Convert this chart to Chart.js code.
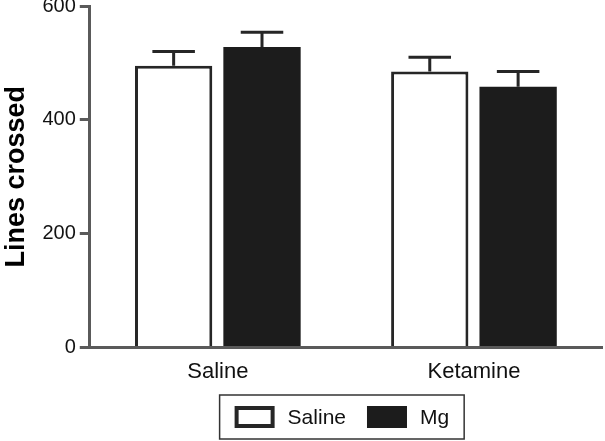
<!DOCTYPE html>
<html>
<head>
<meta charset="utf-8">
<script src="https://cdn.jsdelivr.net/npm/chart.js@4.4.1/dist/chart.umd.min.js"></script>
<style>
  html, body { margin: 0; padding: 0; background: #fff; }
  #wrap { width: 605px; height: 441px; }
</style>
</head>
<body>
<div id="wrap"><canvas id="c" width="605" height="441"></canvas></div>
<script>
const categories = ["Saline", "Ketamine"];
const seriesNames = ["Saline", "Mg"];
const salineValues = [495, 485];
const salineErrors = [25, 25];
const mgValues = [528, 458];
const mgErrors = [26, 27];
const yTicks = [0, 200, 400, 600];
const yTitle = "Lines crossed";

const FONT = "'Liberation Sans', Arial, Helvetica, sans-serif";
const DARK = "#262626";

const errorBarPlugin = {
  id: 'errorBars',
  afterDatasetsDraw(chart) {
    const ctx = chart.ctx;
    const y = chart.scales.y;
    chart.data.datasets.forEach((ds, di) => {
      const meta = chart.getDatasetMeta(di);
      meta.data.forEach((bar, i) => {
        const v = ds.data[i], e = ds.errors[i];
        const yTop = y.getPixelForValue(v + e);
        const yBar = y.getPixelForValue(v);
        const capW = bar.width * 0.55;
        ctx.save();
        ctx.strokeStyle = DARK;
        ctx.lineWidth = 3;
        ctx.lineCap = 'butt';
        ctx.beginPath();
        ctx.moveTo(bar.x, yBar);
        ctx.lineTo(bar.x, yTop);
        ctx.moveTo(bar.x - capW / 2, yTop);
        ctx.lineTo(bar.x + capW / 2, yTop);
        ctx.stroke();
        ctx.restore();
      });
    });
  }
};

const legendPlugin = {
  id: 'boxLegend',
  afterDraw(chart) {
    const ctx = chart.ctx;
    const area = chart.chartArea;
    ctx.save();
    ctx.font = "21px " + FONT;
    const swW = 40, swH = 22, gapSwText = 13, gapItems = 21, padX = 15;
    const widths = chart.data.datasets.map(ds => ctx.measureText(ds.label).width);
    let total = padX * 2;
    widths.forEach((w, i) => { total += swW + gapSwText + w + (i < widths.length - 1 ? gapItems : 0); });
    const cx = (area.left + area.right) / 2 - 4;
    const left = cx - total / 2;
    const top = 395, h = 44;
    ctx.strokeStyle = "#333";
    ctx.lineWidth = 1.5;
    ctx.strokeRect(left, top, total, h);
    let x = left + padX;
    const midY = top + h / 2;
    chart.data.datasets.forEach((ds, i) => {
      ctx.fillStyle = ds.backgroundColor;
      ctx.fillRect(x, midY - swH / 2, swW, swH);
      const bw = ds.label === "Saline" ? 4 : 0;
      if (bw) {
        ctx.strokeStyle = DARK;
        ctx.lineWidth = bw;
        ctx.strokeRect(x + bw / 2, midY - swH / 2 + bw / 2, swW - bw, swH - bw);
      }
      x += swW + gapSwText;
      ctx.fillStyle = "#111";
      ctx.textBaseline = 'middle';
      ctx.textAlign = 'left';
      ctx.fillText(ds.label, x, midY + 1);
      x += widths[i] + gapItems;
    });
    ctx.restore();
  }
};

new Chart(document.getElementById('c'), {
  type: 'bar',
  data: {
    labels: categories,
    datasets: [
      { label: seriesNames[0], data: salineValues, errors: salineErrors,
        backgroundColor: "#ffffff", borderColor: DARK, borderWidth: 3,
        categoryPercentage: 0.69, barPercentage: 0.875 },
      { label: seriesNames[1], data: mgValues, errors: mgErrors,
        backgroundColor: "#1c1c1c", borderColor: "#1c1c1c", borderWidth: 0,
        categoryPercentage: 0.69, barPercentage: 0.875 }
    ]
  },
  options: {
    responsive: false,
    animation: false,
    devicePixelRatio: 1,
    layout: { padding: { top: 0, right: 3, bottom: 45, left: 0 } },
    plugins: {
      legend: { display: false },
      tooltip: { enabled: false }
    },
    scales: {
      x: {
        grid: { display: false, drawTicks: false },
        border: { display: true, color: "#5a5a5a", width: 3 },
        ticks: { color: "#111", padding: 11, font: { family: FONT, size: 22 } }
      },
      y: {
        min: 0, max: 600,
        afterBuildTicks(scale) { scale.ticks = yTicks.map(v => ({ value: v })); },
        grid: { display: true, drawOnChartArea: false, drawTicks: true, tickLength: 10, color: "#5a5a5a", lineWidth: 3 },
        border: { display: true, color: "#5a5a5a", width: 3 },
        ticks: { color: "#111", padding: 4, font: { family: FONT, size: 20, lineHeight: 0.2 } },
        title: { display: true, text: yTitle, color: "#000", padding: { top: 0, bottom: 6 },
                 font: { family: FONT, size: 27, weight: 'bold' } }
      }
    }
  },
  plugins: [errorBarPlugin, legendPlugin]
});
</script>
</body>
</html>
